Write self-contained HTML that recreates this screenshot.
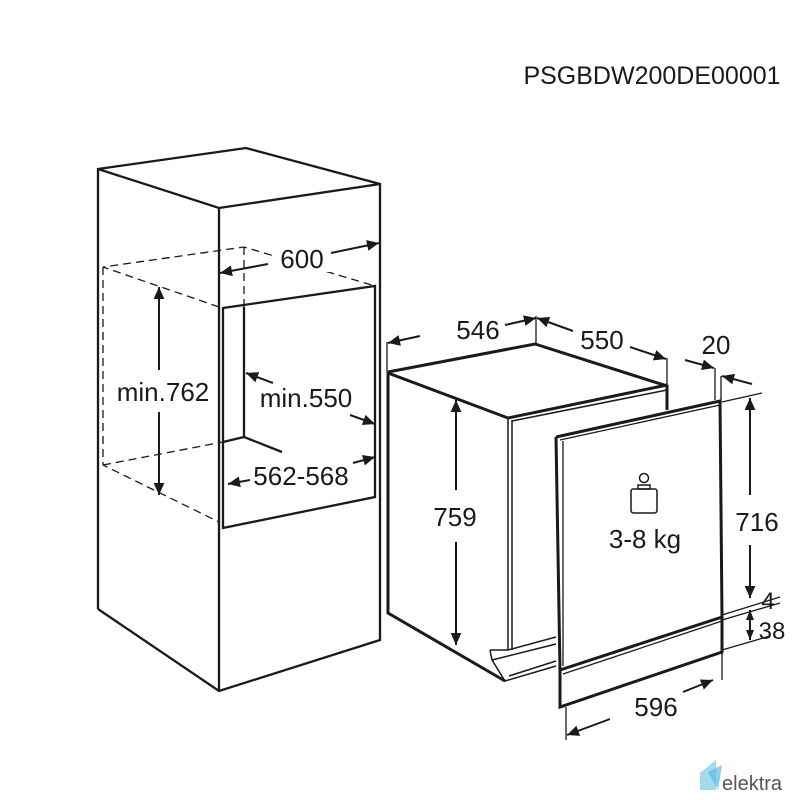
<!DOCTYPE html>
<html><head><meta charset="utf-8"><style>
html,body{margin:0;padding:0;background:#fff;}
svg{display:block;}
text{font-family:"Liberation Sans",sans-serif;fill:#1a1a1a;}
</style></head><body>
<svg width="800" height="800" viewBox="0 0 800 800" xmlns="http://www.w3.org/2000/svg">
<defs>
<marker id="a" viewBox="0 0 10 10" refX="10" refY="5" markerWidth="10" markerHeight="10" markerUnits="userSpaceOnUse" orient="auto-start-reverse">
<path d="M0,1 L10,5 L0,9 z" fill="#1a1a1a"/></marker>
<marker id="b" viewBox="0 0 10 10" refX="10" refY="5" markerWidth="16" markerHeight="12" markerUnits="userSpaceOnUse" orient="auto-start-reverse">
<path d="M0,0.5 L10,5 L0,9.5 z" fill="#1a1a1a"/></marker>
</defs>
<text x="652" y="84" font-size="25" text-anchor="middle">PSGBDW200DE00001</text>

<g stroke="#1a1a1a" fill="none" stroke-width="2.3">
<polyline points="98,609 98,169 246,148 380,184 380,640 219,691 98,609"/>
<polyline points="98,169 219,208 380,184"/>
<line x1="219" y1="208" x2="219" y2="691"/>
<polygon points="223,308 375,286 375,497 223,528"/>
<polyline points="244,307 244,437 282,452"/>
<line x1="223" y1="442" x2="244" y2="437"/>
</g>
<g stroke="#1a1a1a" fill="none" stroke-width="1.3" stroke-dasharray="8,5">
<polyline points="219,307 103,267 244,247 375,286"/>
<polyline points="103,267 103,465 219,522"/>
<line x1="103" y1="465" x2="223" y2="442"/>
<line x1="244" y1="247" x2="244" y2="307"/>
</g>
<rect x="272" y="244" width="60" height="28" fill="#fff"/>
<g stroke="#1a1a1a" fill="none" stroke-width="2">
<line x1="268" y1="264" x2="220" y2="273" marker-end="url(#b)"/>
<line x1="331" y1="253" x2="379" y2="243" marker-end="url(#b)"/>
<line x1="159" y1="370" x2="159" y2="287" marker-end="url(#b)"/>
<line x1="159" y1="412" x2="159" y2="495" marker-end="url(#b)"/>
<line x1="273" y1="383" x2="246" y2="373" marker-end="url(#b)"/>
<line x1="350" y1="415" x2="375" y2="424" marker-end="url(#b)"/>
<line x1="250" y1="480" x2="228" y2="484" marker-end="url(#b)"/>
<line x1="353" y1="463" x2="375" y2="457" marker-end="url(#b)"/>
</g>
<text x="302" y="268" font-size="26" text-anchor="middle">600</text>
<text x="163" y="401" font-size="26" text-anchor="middle">min.762</text>
<text x="306" y="407" font-size="26" text-anchor="middle">min.550</text>
<text x="301" y="485" font-size="26" text-anchor="middle">562-568</text>

<g stroke="#1a1a1a" fill="none" stroke-width="3">
<polyline points="388,372 535,344 667,386 667,410"/>
<polyline points="388,372 388,613 505,681"/>
<polyline points="388,373 508,418 667,385"/>
</g>
<g stroke="#1a1a1a" fill="none" stroke-width="1.5">
<line x1="508" y1="418" x2="508" y2="650"/>
<line x1="512" y1="420" x2="512" y2="650"/>
<line x1="512" y1="421" x2="667" y2="390"/>
<polyline points="490,650 508,650 556,637"/>
<polyline points="490,650 492,660 505,681 556,666"/>
<line x1="492" y1="660" x2="556" y2="644"/>
<line x1="509" y1="676" x2="556" y2="661"/>
</g>
<g stroke="#1a1a1a" fill="none" stroke-width="3">
<polyline points="556,437 720,401 722,617 560,670 556,437"/>
<polyline points="560,670 560,707 722,652 722,617"/>
</g>
<g stroke="#1a1a1a" fill="none" stroke-width="1.3">
<line x1="563" y1="441" x2="563" y2="666"/>
<line x1="560" y1="440" x2="720" y2="405"/>
<line x1="563" y1="674" x2="722" y2="621"/>
<line x1="536" y1="344" x2="536" y2="316"/>
<line x1="667" y1="386" x2="667" y2="358"/>
<line x1="387" y1="372" x2="387" y2="342"/>
<line x1="715" y1="400" x2="715" y2="368"/>
<line x1="721" y1="402" x2="721" y2="376"/>
<line x1="722" y1="402" x2="762" y2="393"/>
<line x1="722" y1="615" x2="780" y2="597"/>
<line x1="722" y1="620" x2="780" y2="603"/>
<line x1="722" y1="650" x2="770" y2="636"/>
<line x1="722" y1="652" x2="722" y2="680"/>
<line x1="566" y1="707" x2="566" y2="740"/>
</g>
<g stroke="#1a1a1a" fill="none" stroke-width="2">
<line x1="420" y1="336" x2="388" y2="343" marker-end="url(#b)"/>
<line x1="505" y1="325" x2="536" y2="318" marker-end="url(#b)"/>
<line x1="573" y1="331" x2="537" y2="318" marker-end="url(#b)"/>
<line x1="630" y1="347" x2="666" y2="359" marker-end="url(#b)"/>
<line x1="685" y1="360" x2="714" y2="368" marker-end="url(#b)"/>
<line x1="752" y1="384" x2="722" y2="376" marker-end="url(#b)"/>
<line x1="456" y1="490" x2="456" y2="400" marker-end="url(#b)"/>
<line x1="456" y1="542" x2="456" y2="645" marker-end="url(#b)"/>
<line x1="750" y1="495" x2="750" y2="398" marker-end="url(#b)"/>
<line x1="750" y1="545" x2="750" y2="598" marker-end="url(#b)"/>
<line x1="750" y1="624" x2="750" y2="610" marker-end="url(#a)"/>
<line x1="750" y1="624" x2="750" y2="640" marker-end="url(#a)"/>
<line x1="610" y1="719" x2="567" y2="735" marker-end="url(#b)"/>
<line x1="683" y1="692" x2="713" y2="680" marker-end="url(#b)"/>
</g>
<g stroke="#1a1a1a" fill="none" stroke-width="1.5">
<circle cx="644" cy="478" r="4.5"/>
<path d="M638,485 h12 v4 h-12 z"/>
<path d="M633,489 h22 q2,0 2,3 v18 q0,3 -3,3 h-20 q-3,0 -3,-3 v-18 q0,-3 2,-3 z"/>
</g>
<text x="478" y="339" font-size="26" text-anchor="middle">546</text>
<text x="602" y="349" font-size="26" text-anchor="middle">550</text>
<text x="716" y="354" font-size="26" text-anchor="middle">20</text>
<text x="455" y="526" font-size="26" text-anchor="middle">759</text>
<text x="645" y="548" font-size="26" text-anchor="middle">3-8 kg</text>
<text x="757" y="531" font-size="26" text-anchor="middle">716</text>
<text x="768" y="609" font-size="24" text-anchor="middle">4</text>
<text x="772" y="639" font-size="24" text-anchor="middle">38</text>
<text x="656" y="716" font-size="26" text-anchor="middle">596</text>
<path d="M700,773 L716,760 L716,790 L700,790 z" fill="#8fd0ea" opacity="0.8"/>
<path d="M708,772 L722,765 L718,790 z" fill="#5bbbe0" opacity="0.7"/>
<text x="722" y="790" font-size="20" style="fill:#555">elektra</text>
</svg>
</body></html>
